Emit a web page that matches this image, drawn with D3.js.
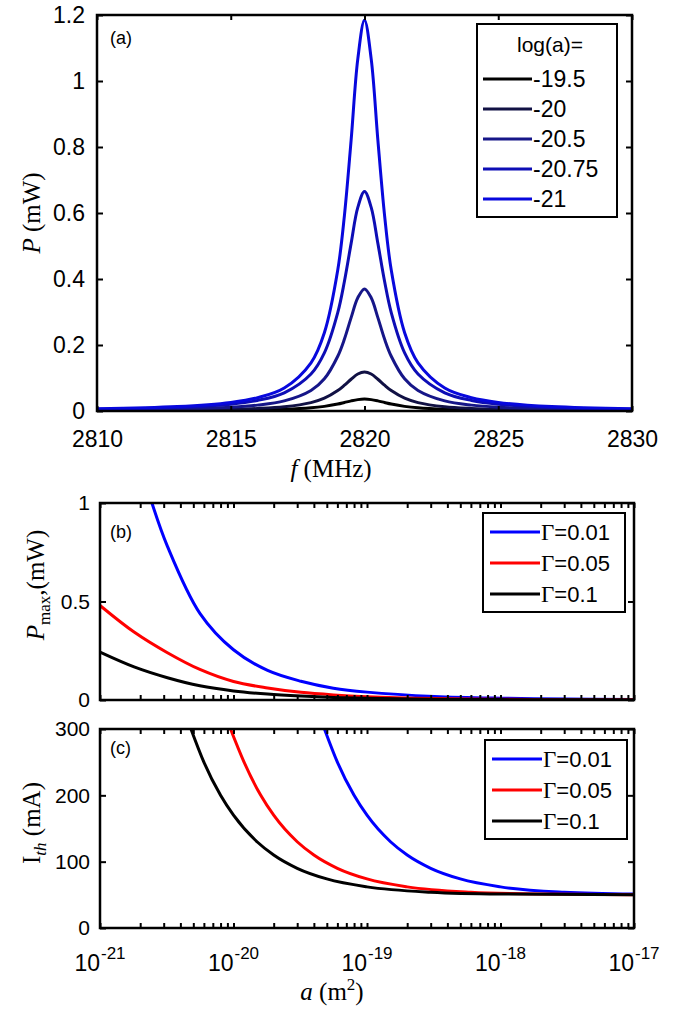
<!DOCTYPE html>
<html>
<head>
<meta charset="utf-8">
<title>resonance power and threshold current</title>
<script src="https://d3js.org/d3.v7.min.js"></script>
<style>
body{margin:0;background:#fff;}
svg{display:block;}
.tick text{font-family:Arial,"Liberation Sans",sans-serif;fill:#000;}
.tick line{stroke:#000;stroke-width:2;}
.frame{fill:none;stroke:#000;stroke-width:2.5;}
.curve{fill:none;stroke-width:3;}
.serif{font-family:"Liberation Serif","DejaVu Serif",serif;}
.sans{font-family:Arial,"Liberation Sans",sans-serif;}
</style>
</head>
<body>
<svg id="fig" width="685" height="1010"></svg>
<script>
/******** DATA ********/
// panel (a): P (mW) vs f (MHz)
var freq = [2810, 2813, 2815, 2816, 2817, 2818, 2818.5, 2819, 2819.25, 2819.5, 2819.75, 2820,
	2820.25, 2820.5, 2820.75, 2821, 2821.5, 2822, 2823, 2824, 2825, 2827, 2830];
var p195 = [0.0005, 0.0010, 0.0020, 0.0030, 0.0050, 0.0095, 0.0140, 0.0212, 0.0259, 0.0307, 0.0345, 0.0360,
	0.0345, 0.0307, 0.0259, 0.0212, 0.0140, 0.0095, 0.0050, 0.0030, 0.0020, 0.0010, 0.0005];
var p20 = [0.0013, 0.0026, 0.0050, 0.0076, 0.0129, 0.0255, 0.0388, 0.0619, 0.0781, 0.0962, 0.112, 0.118,
	0.112, 0.0962, 0.0781, 0.0619, 0.0388, 0.0255, 0.0129, 0.0076, 0.0050, 0.0026, 0.0013];
var p205 = [0.0030, 0.0060, 0.0116, 0.0178, 0.0306, 0.0623, 0.0976, 0.166, 0.218, 0.283, 0.343, 0.370,
	0.343, 0.283, 0.218, 0.166, 0.0976, 0.0623, 0.0306, 0.0178, 0.0116, 0.0060, 0.0030];
var p2075 = [0.0053, 0.0108, 0.0208, 0.0320, 0.0550, 0.112, 0.176, 0.298, 0.393, 0.508, 0.617, 0.665,
	0.617, 0.508, 0.393, 0.298, 0.176, 0.112, 0.0550, 0.0320, 0.0208, 0.0108, 0.0053];
var p21 = [0.0066, 0.0134, 0.0261, 0.0402, 0.0697, 0.146, 0.237, 0.427, 0.593, 0.821, 1.067, 1.185,
	1.067, 0.821, 0.593, 0.427, 0.237, 0.146, 0.0697, 0.0402, 0.0261, 0.0134, 0.0066];
var logLabels = ["-19.5", "-20", "-20.5", "-20.75", "-21"];
var logColors = ["#000000", "#111144", "#161688", "#0d0db5", "#0808dd"];
var fTicks = [2810, 2815, 2820, 2825, 2830];
var pTicks = [0, 0.2, 0.4, 0.6, 0.8, 1, 1.2];

// panel (b): Pmax (mW) vs a (m^2)
var aB = [1e-21, 1.8e-21, 3.2e-21, 5.6e-21, 1e-20, 1.8e-20, 3.2e-20, 5.6e-20, 1e-19, 3.2e-19, 1e-18, 3.2e-18, 1e-17];
var aBlueB = [2.45e-21, 3.2e-21, 5.6e-21, 1e-20, 1.8e-20, 3.2e-20, 5.6e-20, 1e-19, 3.2e-19, 1e-18, 3.2e-18, 1e-17];
var pmaxBlue = [1.0, 0.78, 0.44, 0.255, 0.15, 0.095, 0.06, 0.04, 0.018, 0.009, 0.005, 0.003];
var pmaxRed = [0.48, 0.345, 0.24, 0.155, 0.094, 0.061, 0.039, 0.026, 0.017, 0.0075, 0.0035, 0.0017, 0.0008];
var pmaxBlack = [0.243, 0.168, 0.113, 0.072, 0.046, 0.03, 0.02, 0.013, 0.009, 0.004, 0.002, 0.001, 0.0005];
var pmaxTicks = [0, 0.5, 1];

// panel (c): Ith (mA) vs a (m^2)
var aBlackC = [4.8e-21, 6e-21, 8e-21, 1e-20, 1.5e-20, 2e-20, 3e-20, 5e-20, 1e-19, 3e-19, 1e-18, 1e-17];
var aRedC = [9.5e-21, 1.2e-20, 1.6e-20, 2e-20, 3e-20, 4e-20, 6e-20, 1e-19, 2e-19, 6e-19, 2e-18, 1e-17];
var aBlueC = [4.8e-20, 6e-20, 8e-20, 1e-19, 1.5e-19, 2e-19, 3e-19, 5e-19, 1e-18, 3e-18, 1e-17];
var ithBlack = [300, 250, 200, 170, 130, 110, 90, 74, 62, 54, 51.2, 50.1];
var ithRed = [300, 250, 200, 170, 130, 110, 90, 74, 62, 54, 51.2, 50.2];
var ithBlue = [300, 250, 200, 170, 130, 110, 90, 74, 62, 54, 51.2];
var ithTicks = [0, 100, 200, 300];

var gammaLabels = ["=0.01", "=0.05", "=0.1"];
var gammaColors = ["#0000ff", "#ff0000", "#000000"];
var decades = [1e-21, 1e-20, 1e-19, 1e-18, 1e-17];
var decadeExp = ["-21", "-20", "-19", "-18", "-17"];

/******** LAYOUT ********/
var svg = d3.select("#fig");
var pa = {l: 97, r: 632, t: 15, b: 411};
var pb = {l: 100, r: 634, t: 503, b: 700};
var pc = {l: 100, r: 634, t: 729, b: 928};

// minor + major ticks of the log axis
var logTicks = [];
decades.forEach(function(d, i){
	if(i < decades.length - 1){
		for(var k = 1; k < 10; k++) logTicks.push(d * k);
	}else logTicks.push(d);
});

function clip(id, p){
	svg.append("clipPath").attr("id", id)
		.append("rect").attr("x", p.l).attr("y", p.t).attr("width", p.r - p.l).attr("height", p.b - p.t);
}

//draws four inward tick axes plus the box
function frame(p, x, y, xvals, yvals, xfmt, yfmt, fs, xpad, ypad){
	var axB = d3.axisBottom(x).tickValues(xvals).tickSize(-5).tickSizeOuter(0).tickPadding(xpad).tickFormat(xfmt);
	var axT = d3.axisTop(x).tickValues(xvals).tickSize(-5).tickSizeOuter(0).tickFormat("");
	var axL = d3.axisLeft(y).tickValues(yvals).tickSize(-6).tickSizeOuter(0).tickPadding(ypad).tickFormat(yfmt);
	var axR = d3.axisRight(y).tickValues(yvals).tickSize(-6).tickSizeOuter(0).tickFormat("");
	[[axB, "translate(0," + p.b + ")"], [axT, "translate(0," + p.t + ")"],
	 [axL, "translate(" + p.l + ",0)"], [axR, "translate(" + p.r + ",0)"]].forEach(function(a){
		var g = svg.append("g").attr("transform", a[1]).call(a[0]);
		g.select(".domain").remove();
		g.selectAll("text").style("font-size", fs + "px");
	});
	svg.append("rect").attr("class", "frame")
		.attr("x", p.l).attr("y", p.t).attr("width", p.r - p.l).attr("height", p.b - p.t);
}

/******** PANEL (a) ********/
var xa = d3.scaleLinear().domain([2810, 2830]).range([pa.l, pa.r]);
var ya = d3.scaleLinear().domain([0, 1.2]).range([pa.b, pa.t]);
clip("clipA", pa);
var lineA = d3.line().x(function(d){ return xa(d[0]); }).y(function(d){ return ya(d[1]); })
	.curve(d3.curveCatmullRom.alpha(0.5));
var seriesA = [p195, p20, p205, p2075, p21];
seriesA.forEach(function(s, i){
	svg.append("path").attr("class", "curve").attr("clip-path", "url(#clipA)")
		.attr("stroke", logColors[i])
		.attr("d", lineA(freq.map(function(f, j){ return [f, s[j]]; })));
});
frame(pa, xa, ya, fTicks, pTicks, d3.format("d"), function(d){ return d3.format("")(d); }, 23, 20, 12);

svg.append("text").attr("class", "sans").attr("x", 110).attr("y", 44).style("font-size", "18px").text("(a)");

// legend (a)
svg.append("rect").attr("x", 477).attr("y", 24).attr("width", 140).attr("height", 193)
	.attr("fill", "#fff").attr("stroke", "#000").attr("stroke-width", 2);
svg.append("text").attr("class", "sans").attr("x", 550).attr("y", 52).attr("text-anchor", "middle")
	.style("font-size", "21px").text("log(a)=");
logLabels.forEach(function(l, i){
	var yy = 79 + i * 30;
	svg.append("line").attr("x1", 483).attr("x2", 532).attr("y1", yy).attr("y2", yy)
		.attr("stroke", logColors[i]).attr("stroke-width", 3);
	svg.append("text").attr("class", "sans").attr("x", 533).attr("y", yy + 8)
		.style("font-size", "23px").text(l);
});

var lblA = svg.append("text").attr("class", "serif").attr("transform", "translate(40,213) rotate(-90)")
	.attr("text-anchor", "middle").style("font-size", "25px");
lblA.append("tspan").style("font-style", "italic").text("P");
lblA.append("tspan").text(" (mW)");

var lblF = svg.append("text").attr("class", "serif").attr("x", 331).attr("y", 477)
	.attr("text-anchor", "middle").style("font-size", "25px");
lblF.append("tspan").style("font-style", "italic").text("f");
lblF.append("tspan").text(" (MHz)");

/******** PANEL (b) ********/
var xb = d3.scaleLog().domain([1e-21, 1e-17]).range([pb.l, pb.r]);
var yb = d3.scaleLinear().domain([0, 1]).range([pb.b, pb.t]);
clip("clipB", pb);
var lineB = d3.line().x(function(d){ return xb(d[0]); }).y(function(d){ return yb(d[1]); })
	.curve(d3.curveCatmullRom.alpha(0.5));
[[aBlueB, pmaxBlue, 0], [aB, pmaxRed, 1], [aB, pmaxBlack, 2]].forEach(function(s){
	svg.append("path").attr("class", "curve").attr("clip-path", "url(#clipB)")
		.attr("stroke", gammaColors[s[2]])
		.attr("d", lineB(s[0].map(function(a, j){ return [a, s[1][j]]; })));
});
frame(pb, xb, yb, logTicks, pmaxTicks, "", function(d){ return d3.format("")(d); }, 21, 10, 10);
svg.append("text").attr("class", "sans").attr("x", 110).attr("y", 538).style("font-size", "18px").text("(b)");

var lblB = svg.append("text").attr("class", "serif").attr("transform", "translate(44,585) rotate(-90)")
	.attr("text-anchor", "middle").style("font-size", "25px");
lblB.append("tspan").style("font-style", "italic").text("P");
lblB.append("tspan").attr("dy", 6).style("font-size", "17px").text("max");
lblB.append("tspan").attr("dy", -6).text(",(mW)");

/******** PANEL (c) ********/
var xc = d3.scaleLog().domain([1e-21, 1e-17]).range([pc.l, pc.r]);
var yc = d3.scaleLinear().domain([0, 300]).range([pc.b, pc.t]);
clip("clipC", pc);
var lineC = d3.line().x(function(d){ return xc(d[0]); }).y(function(d){ return yc(d[1]); })
	.curve(d3.curveMonotoneX);
[[aBlueC, ithBlue, 0], [aRedC, ithRed, 1], [aBlackC, ithBlack, 2]].forEach(function(s){
	svg.append("path").attr("class", "curve").attr("clip-path", "url(#clipC)")
		.attr("stroke", gammaColors[s[2]])
		.attr("d", lineC(s[0].map(function(a, j){ return [a, s[1][j]]; })));
});
frame(pc, xc, yc, logTicks, ithTicks, "", d3.format("d"), 21, 10, 10);
svg.append("text").attr("class", "sans").attr("x", 110).attr("y", 754).style("font-size", "18px").text("(c)");

// decade labels: "10" ends at the tick, exponent follows
decades.forEach(function(d, i){
	svg.append("text").attr("class", "sans").attr("x", xc(d)).attr("y", 971)
		.attr("text-anchor", "end").style("font-size", "23px").text("10");
	svg.append("text").attr("class", "sans").attr("x", xc(d) + 1).attr("y", 959)
		.style("font-size", "17px").text(decadeExp[i]);
});

var lblC = svg.append("text").attr("class", "serif").attr("transform", "translate(40,823) rotate(-90)")
	.attr("text-anchor", "middle").style("font-size", "25px");
lblC.append("tspan").text("I");
lblC.append("tspan").attr("dy", 6).style("font-size", "17px").style("font-style", "italic").text("th");
lblC.append("tspan").attr("dy", -6).text(" (mA)");

var lblX = svg.append("text").attr("class", "serif").attr("x", 332).attr("y", 1000)
	.attr("text-anchor", "middle").style("font-size", "25px");
lblX.append("tspan").style("font-style", "italic").text("a");
lblX.append("tspan").text(" (m");
lblX.append("tspan").attr("dy", -10).style("font-size", "17px").text("2");
lblX.append("tspan").attr("dy", 10).text(")");

/******** Gamma legends (b) and (c) ********/
function gammaLegend(bx, by){
	svg.append("rect").attr("x", bx).attr("y", by).attr("width", 142).attr("height", 99)
		.attr("fill", "#fff").attr("stroke", "#000").attr("stroke-width", 2);
	gammaLabels.forEach(function(l, i){
		var yy = by + 19 + i * 31;
		svg.append("line").attr("x1", bx + 7).attr("x2", bx + 57).attr("y1", yy).attr("y2", yy)
			.attr("stroke", gammaColors[i]).attr("stroke-width", 3);
		var t = svg.append("text").attr("x", bx + 58).attr("y", yy + 8).style("font-size", "22px");
		t.append("tspan").attr("class", "serif").style("font-size", "23px").text("\u0393");
		t.append("tspan").attr("class", "sans").text(l);
	});
}
gammaLegend(483, 513);
gammaLegend(485, 740);
</script>
</body>
</html>
